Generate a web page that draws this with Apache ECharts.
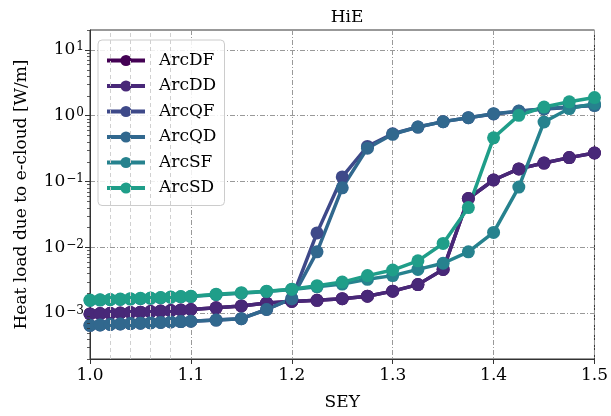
<!DOCTYPE html>
<html>
<head>
<meta charset="utf-8">
<script src="https://cdn.jsdelivr.net/npm/echarts@6/dist/echarts.min.js"></script>
<style>
  html, body { margin: 0; padding: 0; background: #fff; }
  #chart { width: 611px; height: 416px; }
</style>
</head>
<body>
<div id="chart"></div>
<script>
// Secondary electron yield scan points
const sey = [1.00, 1.01, 1.02, 1.03, 1.04, 1.05, 1.06, 1.07, 1.08, 1.09, 1.10,
             1.125, 1.15, 1.175, 1.20, 1.225, 1.25, 1.275, 1.30, 1.325, 1.35,
             1.375, 1.40, 1.425, 1.45, 1.475, 1.50];

// Heat load per arc element [W/m]
const arcDF = [0.97e-3, 0.98e-3, 0.99e-3, 1.00e-3, 1.02e-3, 1.03e-3, 1.05e-3, 1.07e-3, 1.09e-3, 1.11e-3, 1.13e-3,
               1.20e-3, 1.28e-3, 1.42e-3, 1.50e-3, 1.56e-3, 1.65e-3, 1.80e-3, 2.15e-3, 2.70e-3, 4.60e-3,
               0.055, 0.105, 0.155, 0.19, 0.23, 0.27];
const arcDD = [0.97e-3, 0.98e-3, 0.99e-3, 1.00e-3, 1.02e-3, 1.03e-3, 1.05e-3, 1.07e-3, 1.09e-3, 1.11e-3, 1.13e-3,
               1.20e-3, 1.28e-3, 1.42e-3, 1.50e-3, 1.56e-3, 1.65e-3, 1.80e-3, 2.15e-3, 2.70e-3, 4.60e-3,
               0.055, 0.105, 0.155, 0.19, 0.23, 0.27];
const arcQF = [6.5e-4, 6.6e-4, 6.7e-4, 6.8e-4, 6.9e-4, 7.0e-4, 7.1e-4, 7.2e-4, 7.3e-4, 7.4e-4, 7.5e-4,
               7.8e-4, 8.2e-4, 1.13e-3, 1.65e-3, 0.0165, 0.117, 0.34, 0.53, 0.67, 0.81,
               0.93, 1.06, 1.16, 1.26, 1.33, 1.45];
const arcQD = [6.5e-4, 6.6e-4, 6.7e-4, 6.8e-4, 6.9e-4, 7.0e-4, 7.1e-4, 7.2e-4, 7.3e-4, 7.4e-4, 7.5e-4,
               7.8e-4, 8.2e-4, 1.13e-3, 1.65e-3, 0.0085, 0.08, 0.32, 0.52, 0.67, 0.81,
               0.93, 1.07, 1.17, 1.27, 1.35, 1.42];
const arcSF = [1.55e-3, 1.57e-3, 1.59e-3, 1.61e-3, 1.63e-3, 1.65e-3, 1.67e-3, 1.70e-3, 1.73e-3, 1.76e-3, 1.78e-3,
               1.90e-3, 2.00e-3, 2.12e-3, 2.28e-3, 2.50e-3, 2.75e-3, 3.25e-3, 3.70e-3, 4.60e-3, 5.70e-3,
               8.5e-3, 0.0168, 0.082, 0.80, 1.28, 1.52];
const arcSD = [1.57e-3, 1.59e-3, 1.61e-3, 1.63e-3, 1.65e-3, 1.67e-3, 1.69e-3, 1.72e-3, 1.75e-3, 1.78e-3, 1.80e-3,
               1.93e-3, 2.04e-3, 2.15e-3, 2.30e-3, 2.60e-3, 2.95e-3, 3.70e-3, 4.50e-3, 6.20e-3, 0.0114,
               0.040, 0.46, 1.01, 1.35, 1.62, 1.88];

const seriesNames = ['ArcDF', 'ArcDD', 'ArcQF', 'ArcQD', 'ArcSF', 'ArcSD'];
const seriesValues = [arcDF, arcDD, arcQF, arcQD, arcSF, arcSD];
const seriesColors = ['#440154', '#482878', '#3e4989', '#31688e', '#26828e', '#1f9e89'];

// Light guide lines in the fine-scan region
const fineGuides = [1.02, 1.04, 1.06, 1.08];

const FONT = '"DejaVu Serif", serif';
const FS = 17;
const gridDash = [5, 2, 1, 2];

const chart = echarts.init(document.getElementById('chart'), null, { renderer: 'canvas' });

function logLabel(v) {
  const e = Math.log10(v);
  const k = Math.round(e);
  if (Math.abs(e - k) > 1e-6) return '';
  const exp = (k < 0 ? '\u2212' : '') + Math.abs(k);
  return '{b|10}{s|' + exp + '}';
}

const series = seriesNames.map((name, i) => ({
  name: name,
  type: 'line',
  data: sey.map((x, j) => [x, seriesValues[i][j]]),
  symbol: 'circle',
  symbolSize: 13,
  showSymbol: true,
  color: seriesColors[i],
  lineStyle: { width: 3.5, type: 'solid', color: seriesColors[i] },
  itemStyle: { color: seriesColors[i] },
  emphasis: { disabled: true },
  animation: false,
  z: 3
}));

// Guide lines
series.push({
  type: 'line',
  data: [],
  silent: true,
  animation: false,
  markLine: {
    silent: true,
    symbol: ['none', 'none'],
    label: { show: false },
    lineStyle: { color: '#d0d0d0', type: [4, 3], width: 1 },
    data: fineGuides.map(x => ({ xAxis: x }))
  },
  z: 1
});

chart.setOption({
  animation: false,
  backgroundColor: '#ffffff',
  title: {
    text: 'HiE',
    left: 342,
    top: 4,
    textAlign: 'center',
    textStyle: { fontFamily: FONT, fontSize: FS, fontWeight: 'normal', color: '#000' }
  },
  grid: {
    left: 90, right: 16, top: 30, bottom: 52,
    show: true, borderColor: '#333', borderWidth: 1, backgroundColor: 'transparent'
  },
  legend: {
    orient: 'vertical',
    left: 98,
    top: 40,
    padding: [12, 8, 9, 7],
    itemWidth: 38,
    itemHeight: 14,
    itemGap: 8.5,
    backgroundColor: 'rgba(255,255,255,0.85)',
    borderColor: '#cccccc',
    borderWidth: 1,
    borderRadius: 4,
    lineStyle: { width: 4, type: 'solid' },
    textStyle: { fontFamily: FONT, fontSize: FS, color: '#000', padding: [0, 0, 0, 9] },
    data: seriesNames
  },
  xAxis: {
    type: 'value',
    min: 1.0,
    max: 1.5,
    interval: 0.1,
    name: 'SEY',
    nameLocation: 'middle',
    nameGap: 35,
    nameTextStyle: { fontFamily: FONT, fontSize: FS, color: '#000' },
    axisLine: { show: true, lineStyle: { color: '#333', width: 1 } },
    axisTick: { show: true, inside: false, length: 5, lineStyle: { color: '#333' } },
    axisLabel: {
      fontFamily: FONT, fontSize: FS, color: '#000', margin: 8,
      formatter: v => v.toFixed(1)
    },
    splitLine: { show: true, lineStyle: { color: '#999', type: gridDash, width: 1 } }
  },
  yAxis: {
    type: 'log',
    logBase: 10,
    min: 2e-4,
    max: 20,
    name: 'Heat load due to e-cloud [W/m]',
    nameLocation: 'middle',
    nameGap: 60,
    nameTextStyle: { fontFamily: FONT, fontSize: FS, color: '#000' },
    axisLine: { show: true, lineStyle: { color: '#333', width: 1 } },
    axisTick: { show: true, inside: false, length: 5, lineStyle: { color: '#333' } },
    axisLabel: {
      fontFamily: FONT, color: '#000', margin: 6,
      showMinLabel: false, showMaxLabel: false,
      formatter: logLabel,
      rich: {
        b: { fontFamily: FONT, fontSize: FS, lineHeight: 17, color: '#000', verticalAlign: 'bottom' },
        s: { fontFamily: FONT, fontSize: 12, lineHeight: 12, color: '#000', verticalAlign: 'top', padding: [0, 0, 12, 1] }
      }
    },
    splitLine: { show: true, lineStyle: { color: '#999', type: gridDash, width: 1 } }
  },
  series: series
});

// Logarithmic minor ticks on the y axis
function drawMinorTicks() {
  const x0 = chart.convertToPixel({ xAxisIndex: 0 }, 1.0);
  const els = [];
  for (let k = -4; k <= 1; k++) {
    for (let m = 2; m <= 9; m++) {
      const v = m * Math.pow(10, k);
      if (v < 2e-4 || v > 20) continue;
      const y = Math.round(chart.convertToPixel({ yAxisIndex: 0 }, v)) + 0.5;
      els.push({
        type: 'line',
        silent: true,
        shape: { x1: x0 - 3, y1: y, x2: x0, y2: y },
        style: { stroke: '#333', lineWidth: 0.8 },
        z: 10
      });
    }
  }
  chart.setOption({ graphic: els });
}
drawMinorTicks();
</script>
</body>
</html>
